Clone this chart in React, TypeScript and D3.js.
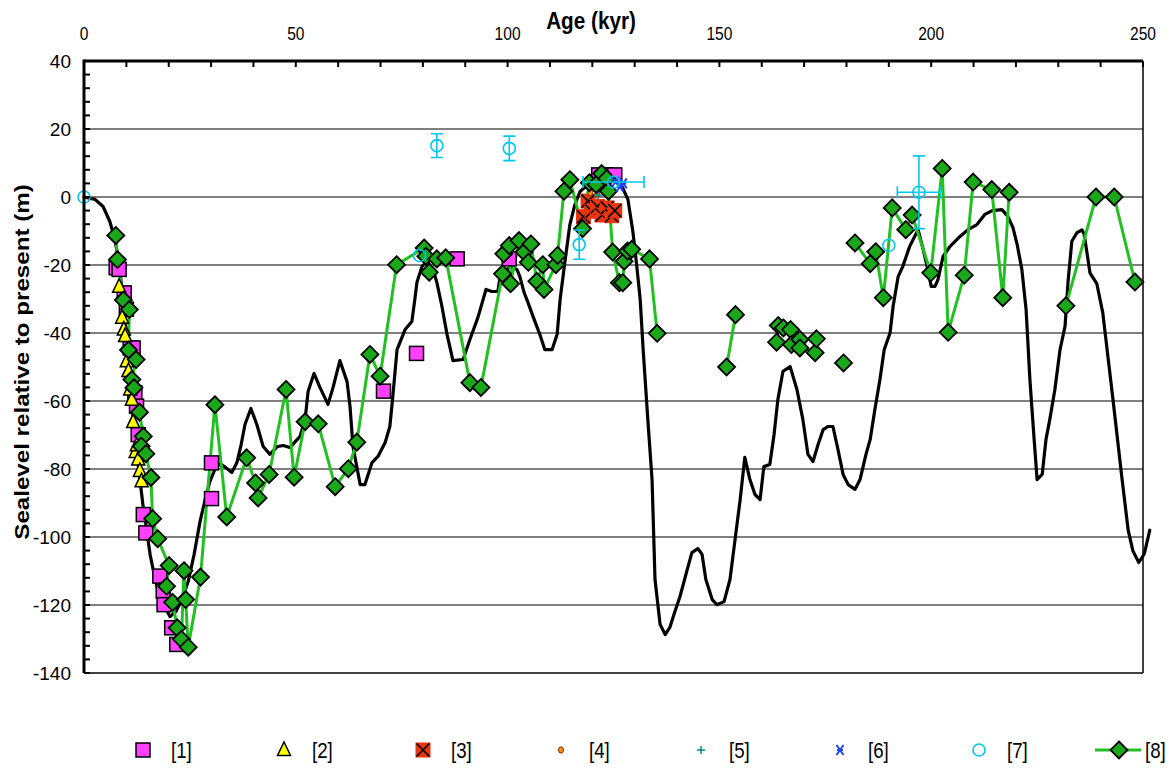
import React from 'react';
import * as d3 from 'd3';

// ---------- DATA ----------
const xTickLabels = [0, 50, 100, 150, 200, 250];
const yTickLabels = [40, 20, 0, -20, -40, -60, -80, -100, -120, -140];
const gridLevels = [20, 0, -20, -40, -60, -80, -100, -120];

// reference sea-level curve (age kyr, m)
const curve: [number, number][] = [
  [0, 0], [2.6, -0.7], [4.5, -2.8], [6.1, -7.2], [7.3, -12.5], [8.0, -17.5], [9.0, -27.2], [9.9, -39],
  [10.9, -52.2], [11.6, -65.4], [12.5, -75.7], [13.2, -83.1], [13.9, -90.4], [14.6, -96.3], [15.6, -105.1],
  [16.8, -112.5], [17.9, -117.5], [19.1, -120.7], [20.3, -123.4], [21.7, -121.9], [23.1, -118.4],
  [24.6, -113.1], [26.0, -105.1], [27.4, -95.4], [28.6, -89], [29.7, -83.7], [30.9, -80.1], [32.1, -78.4],
  [33.5, -79.6], [34.9, -81], [36.1, -78.1], [37.1, -72.8], [38.0, -66.9], [39.4, -62.2], [40.8, -66.9],
  [42.3, -73.4], [43.9, -75.7], [45.6, -73.4], [47.0, -73.1], [48.6, -73.7], [51.0, -70.4], [52.2, -65.4],
  [52.9, -57.2], [54.3, -51.9], [55.7, -56], [57.6, -61], [58.8, -56], [60.4, -48.1], [62.1, -54.3],
  [62.8, -61.6], [63.5, -73.4], [65.2, -84.6], [66.3, -84.6], [68.0, -78.1], [69.4, -76.3], [71.1, -72.2],
  [72.2, -67.5], [72.9, -58.7], [73.9, -44.9], [75.8, -39], [77.4, -36.6], [78.1, -30.1], [78.6, -25.1],
  [79.8, -20.4], [81.0, -19], [82.4, -21.3], [83.3, -25.1], [84.5, -32.2], [85.7, -40.4], [87.1, -48.1],
  [89.5, -47.8], [91.1, -41.9], [93.0, -35.4], [94.9, -27.2], [96.3, -27.8], [97.7, -27.8], [98.4, -22.2],
  [99.6, -21.3], [101.0, -20.7], [102.2, -21.3], [102.9, -23.4], [103.9, -28.1], [104.8, -31], [106.0, -35.1],
  [107.6, -40.4], [108.8, -44.9], [110.5, -44.9], [111.7, -40.4], [112.4, -30.1], [113.6, -18.4],
  [114.7, -8.1], [115.9, -2.2], [117.1, 1.6], [119.0, 3.7], [120.9, 4.3], [123.0, 4.6], [125.4, 4.6],
  [127.0, 3.1], [128.4, -0.7], [129.6, -10.4], [130.5, -20.4], [131.3, -30.1], [132.0, -44.9],
  [133.1, -65.4], [134.1, -83.1], [134.8, -112.5], [136.0, -125.7], [137.2, -128.7], [138.3, -126.6],
  [139.5, -121.9], [140.7, -117.5], [142.1, -111], [143.5, -104.6], [144.9, -103.4], [145.9, -105.1],
  [146.8, -112.5], [148.3, -118.4], [149.4, -119.9], [151.1, -119], [152.5, -112.5], [153.7, -100.7],
  [154.9, -89], [156.0, -76.6], [157.2, -83.1], [158.4, -87.5], [159.6, -89], [160.5, -79.3], [161.9, -78.7],
  [162.9, -69.9], [163.8, -59.6], [165.0, -51.3], [166.7, -49.9], [168.3, -56.6], [169.7, -65.4],
  [170.9, -75.7], [172.1, -77.8], [173.3, -72.8], [174.5, -68.4], [175.6, -67.5], [176.8, -67.5],
  [178.0, -74.3], [179.2, -81.6], [180.4, -84.6], [182.0, -86], [183.2, -83.1], [184.6, -75.7],
  [185.6, -71.3], [186.7, -62.5], [187.9, -53.7], [188.9, -44.9], [190.3, -39.9], [191.0, -32.2],
  [192.2, -23.4], [193.3, -20.4], [194.9, -14.6], [196.9, -9.6], [198.1, -15.4], [199.2, -21.3],
  [200.0, -26.3], [200.9, -26.3], [201.6, -24.3], [202.8, -17.5], [204.4, -14.6], [206.8, -11.6],
  [208.7, -9.6], [210.8, -8.1], [212.7, -5.1], [214.4, -4], [216.7, -3.7], [218.1, -5.7], [219.3, -9],
  [220.3, -14], [221.4, -21.3], [222.4, -33.1], [223.3, -53.7], [224.3, -71.3], [225.0, -83.1],
  [226.2, -81.6], [227.1, -71.3], [228.0, -65.4], [229.2, -56.6], [230.4, -45], [231.6, -38],
  [232.3, -25], [233.2, -13], [234.4, -10.5], [235.6, -9.7], [236.1, -10.9], [237.5, -22.4],
  [239.1, -25.5], [240.5, -34], [242.9, -59.4], [245.0, -82.4], [246.5, -98], [247.6, -104],
  [249.0, -107.5], [250.3, -105], [251.6, -98]
];

// [1] squares
const series1: [number, number][] = [
  [7.6, -20.8], [8.3, -21.3], [9.5, -28.2], [10.0, -33], [10.9, -44.4], [11.6, -44.4], [12.0, -57.6],
  [12.4, -61.5], [12.8, -69.9], [14.0, -93.4], [14.6, -98.8], [17.9, -111.5], [18.7, -115.9],
  [18.9, -119.9], [20.7, -126.7], [21.9, -131.6], [30.1, -78.2], [30.1, -88.7], [70.7, -57.1],
  [78.5, -46], [88.1, -18.2], [100.4, -18.2], [121.5, 6.5], [123.3, 6.5], [125.3, 6.5]
];

// [2] triangles
const series2: [number, number][] = [
  [8.3, -26.4], [9.0, -35.5], [9.4, -39], [9.7, -40.9], [10.1, -48.3], [10.5, -51.2], [10.9, -56.6],
  [11.3, -59.6], [11.6, -66.2], [12.2, -75], [12.5, -73], [12.8, -77.2], [13.2, -80.6], [13.6, -83.6]
];

// [3] crossed boxes
const series3: [number, number][] = [
  [117.9, -5.8], [119.0, -1.2], [119.9, -4.2], [121.2, -2.8], [122.3, -5.3], [123.5, -3.2], [124.6, -5.5], [125.3, -4.0]
];

// [4] small circles
const series4: [number, number][] = [[119.5, 1.3], [121.2, 0.7], [123.8, 0.7]];

// [5] plus
const series5: [number, number][] = [[121.3, 0.5], [122.5, 1.5]];

// [6] x
const series6: [number, number][] = [[125.5, 4.5], [126.5, 3.0], [127.3, 4.0]];

// [7] open circles with error bars
const series7: [number, number][] = [
  [0, 0], [79.2, -17.2], [83.3, 15.1], [100.4, 14.3], [116.9, -14], [125.0, 4.4], [190.0, -14.2], [197.1, 1.4]
];
const series7YErr = [0, 0, 3.5, 3.6, 4.3, 0, 0, 10.7];
const series7XErr = [0, 0, 0, 0, 0, 7.2, 0, 5.1];

// [8] line + diamonds, in segments
const seg8a: [number, number][] = [
  [7.5, -11.3], [7.9, -18.4], [9.3, -30.3], [10.7, -33.1], [10.5, -45], [12.3, -47.8], [11.3, -53.7],
  [11.8, -56.1], [13.1, -63.3], [14.0, -70.4], [13.5, -73.3], [14.6, -75.5], [15.8, -82.5], [16.2, -94.6],
  [17.4, -100.5], [20.1, -108.4], [19.5, -114.5], [20.9, -119.2], [22.0, -126.7], [23.0, -130.1],
  [23.6, -109.9], [24.0, -118.4], [24.6, -132.4], [27.5, -111.8], [30.9, -61.1], [33.7, -94.1],
  [38.4, -76.7], [40.5, -84.1], [41.1, -88.5], [43.7, -81.6], [47.7, -56.6], [49.6, -82.4], [52.2, -66.1],
  [55.3, -66.7], [59.3, -85.2], [62.4, -79.9], [64.4, -72.1], [67.5, -46.3], [69.9, -52.7], [73.8, -19.9],
  [80.3, -15], [80.7, -17.4], [81.5, -22.1], [83.3, -18.2], [85.4, -17.9], [91.1, -54.6], [93.7, -56],
  [98.8, -22.6], [99.1, -16.7], [100.4, -14.3], [100.7, -25.5], [102.7, -12.8], [103.9, -16.2],
  [104.9, -19.2], [105.5, -13.8], [106.9, -24.8], [108.3, -19.9], [108.6, -27.2], [111.4, -19.9],
  [111.8, -17.2], [113.3, 1.7], [114.7, 5.1], [117.7, -9.3], [119.3, 4.2], [120.9, 3.7], [122.2, 6.9],
  [123.4, 5.4], [123.8, 1.7], [124.8, -16.2], [126.4, -25.2], [127.2, -25.2], [127.5, -18.9],
  [128.3, -15.9], [129.3, -15.4], [133.5, -18.2], [135.3, -40.1]
];
const seg8b: [number, number][] = [[151.7, -50], [153.8, -34.6]];
const seg8c: [number, number][] = [
  [163.5, -42.7], [163.9, -37.8], [165.1, -38.5], [166.8, -39], [167.0, -43.4], [169.0, -41.9],
  [169.0, -44.4], [172.6, -45.8], [172.9, -41.7]
];
const seg8d: [number, number][] = [[179.3, -48.8]];
const seg8e: [number, number][] = [
  [182.0, -13.5], [185.6, -19.6], [186.9, -16.1], [188.7, -29.6], [190.8, -3.2], [194.0, -9.6],
  [195.5, -5.3], [199.9, -22.3], [202.6, 8.4], [204.0, -39.8], [207.8, -23], [209.9, 4.4], [214.3, 2.2],
  [216.9, -29.6], [218.4, 1.4]
];
const seg8f: [number, number][] = [[231.8, -32], [238.9, 0], [243.2, 0], [248.1, -25]];

const legendLabels = ['[1]', '[2]', '[3]', '[4]', '[5]', '[6]', '[7]', '[8]'];

// ---------- STYLE ----------
const W = 1171, H = 769;
const PINK = '#ff40ff', YELLOW = '#ffff00', RED = '#e8340f', ORANGE = '#ff8c1a',
  TEAL = '#008b8b', BLUE = '#2244ff', CYAN = '#00c8f0', GREEN_LINE = '#22c022', GREEN_FILL = '#1aa81a';

const x = d3.scaleLinear().domain([0, 250]).range([84, 1143]);
const y = d3.scaleLinear().domain([-140, 40]).range([673, 61]);

const line = d3.line<[number, number]>().x(d => x(d[0])).y(d => y(d[1]));

function Square({ cx, cy }: { cx: number; cy: number }) {
  return <rect x={cx - 7} y={cy - 7} width={14} height={14} fill={PINK} stroke="#000" strokeWidth={1.5} />;
}
function Triangle({ cx, cy }: { cx: number; cy: number }) {
  return <path d={`M${cx},${cy - 8}L${cx + 6.5},${cy + 5.5}L${cx - 6.5},${cy + 5.5}Z`} fill={YELLOW} stroke="#000" strokeWidth={1.5} />;
}
function XBox({ cx, cy }: { cx: number; cy: number }) {
  return (
    <g>
      <rect x={cx - 7.5} y={cy - 7.5} width={15} height={15} fill={RED} />
      <path d={`M${cx - 6.5},${cy - 6.5}L${cx + 6.5},${cy + 6.5}M${cx + 6.5},${cy - 6.5}L${cx - 6.5},${cy + 6.5}`} stroke="#000" strokeWidth={1.6} />
    </g>
  );
}
function Dot({ cx, cy }: { cx: number; cy: number }) {
  return <ellipse cx={cx} cy={cy} rx={2.5} ry={3.2} fill={ORANGE} stroke="#7a3a00" strokeWidth={1} />;
}
function Plus({ cx, cy }: { cx: number; cy: number }) {
  return <path d={`M${cx - 4},${cy}L${cx + 4},${cy}M${cx},${cy - 4}L${cx},${cy + 4}`} stroke={TEAL} strokeWidth={1.5} />;
}
function XMark({ cx, cy }: { cx: number; cy: number }) {
  return <path d={`M${cx - 3.5},${cy - 5}L${cx + 3.5},${cy + 5}M${cx + 3.5},${cy - 5}L${cx - 3.5},${cy + 5}M${cx - 3},${cy}L${cx + 3},${cy}`} stroke={BLUE} strokeWidth={2} />;
}
function OCircle({ cx, cy }: { cx: number; cy: number }) {
  return <circle cx={cx} cy={cy} r={6} fill="none" stroke={CYAN} strokeWidth={1.6} />;
}
function Diamond({ cx, cy }: { cx: number; cy: number }) {
  return <path d={`M${cx},${cy - 8.5}L${cx + 8.5},${cy}L${cx},${cy + 8.5}L${cx - 8.5},${cy}Z`} fill={GREEN_FILL} stroke="#000" strokeWidth={1.8} strokeLinejoin="miter" />;
}

export default function App() {
  const seg8 = [seg8a, seg8b, seg8c, seg8d, seg8e, seg8f];
  const xMinor = d3.range(0, 251, 10);
  const yMinor = d3.range(-140, 41, 4);
  const legendX = [143, 284, 423, 561, 701, 840, 979, 1119];
  const legendY = 750;
  const font = 'Arial, "Liberation Sans", sans-serif';

  return (
    <svg width={W} height={H} style={{ position: 'absolute', left: 0, top: 0, display: 'block', background: '#fff' }} fontFamily={font}>
      {/* grid */}
      {gridLevels.map(v => (
        <line key={v} x1={x(0)} x2={x(250)} y1={y(v)} y2={y(v)} stroke="#000" strokeWidth={1} />
      ))}
      {/* borders */}
      <line x1={x(0)} x2={x(250)} y1={y(-140)} y2={y(-140)} stroke="#000" strokeWidth={1.5} />
      <line x1={x(250)} x2={x(250)} y1={y(40)} y2={y(-140)} stroke="#000" strokeWidth={1.5} />

      {/* reference curve */}
      <path d={line(curve) || ''} fill="none" stroke="#000" strokeWidth={3.2} strokeLinejoin="round" strokeLinecap="round" />

      {/* [8] lines */}
      {seg8.map((s, i) => s.length > 1 ? (
        <path key={i} d={line(s) || ''} fill="none" stroke={GREEN_LINE} strokeWidth={3} strokeLinejoin="round" />
      ) : null)}

      {series1.map((d, i) => <Square key={i} cx={x(d[0])} cy={y(d[1])} />)}
      {series2.map((d, i) => <Triangle key={i} cx={x(d[0])} cy={y(d[1])} />)}
      {series3.map((d, i) => <XBox key={i} cx={x(d[0])} cy={y(d[1])} />)}
      {series4.map((d, i) => <Dot key={i} cx={x(d[0])} cy={y(d[1])} />)}
      {series5.map((d, i) => <Plus key={i} cx={x(d[0])} cy={y(d[1])} />)}
      {seg8.map((s, i) => s.map((d, j) => <Diamond key={`${i}-${j}`} cx={x(d[0])} cy={y(d[1])} />))}
      {series6.map((d, i) => <XMark key={i} cx={x(d[0])} cy={y(d[1])} />)}
      {series7.map((d, i) => {
        const cx = x(d[0]), cy = y(d[1]);
        const ye = series7YErr[i], xe = series7XErr[i];
        return (
          <g key={i} stroke={CYAN} strokeWidth={1.6} fill="none">
            {ye > 0 && (
              <path d={`M${cx},${y(d[1] + ye)}L${cx},${y(d[1] - ye)}M${cx - 6},${y(d[1] + ye)}L${cx + 6},${y(d[1] + ye)}M${cx - 6},${y(d[1] - ye)}L${cx + 6},${y(d[1] - ye)}`} />
            )}
            {xe > 0 && (
              <path d={`M${x(d[0] - xe)},${cy}L${x(d[0] + xe)},${cy}M${x(d[0] - xe)},${cy - 6}L${x(d[0] - xe)},${cy + 6}M${x(d[0] + xe)},${cy - 6}L${x(d[0] + xe)},${cy + 6}`} />
            )}
            <OCircle cx={cx} cy={cy} />
          </g>
        );
      })}

      {/* axes */}
      <line x1={x(0)} x2={x(250)} y1={y(40)} y2={y(40)} stroke="#000" strokeWidth={3} />
      <line x1={x(0)} x2={x(0)} y1={y(40) - 1.5} y2={y(-140)} stroke="#000" strokeWidth={3} />
      {xMinor.map(v => (
        <line key={v} x1={x(v)} x2={x(v)} y1={y(40)} y2={y(40) + 6} stroke="#000" strokeWidth={2} />
      ))}
      {yMinor.map(v => (
        <line key={v} x1={x(0)} x2={x(0) + 6} y1={y(v)} y2={y(v)} stroke="#000" strokeWidth={2} />
      ))}
      {xTickLabels.map(v => (
        <text key={v} transform={`translate(${x(v)},40) scale(0.82,1)`} textAnchor="middle" fontSize={19}>{v}</text>
      ))}
      {yTickLabels.map(v => (
        <text key={v} x={71} y={y(v) + 6.5} textAnchor="end" fontSize={19}>{v}</text>
      ))}
      <text transform="translate(591,29) scale(0.9,1)" textAnchor="middle" fontSize={23} fontWeight="bold">Age (kyr)</text>
      <text transform="translate(29,362) rotate(-90) scale(1.15,1)" textAnchor="middle" fontSize={21} fontWeight="bold">Sealevel relative to present (m)</text>

      {/* legend */}
      <g>
        <Square cx={legendX[0]} cy={legendY} />
        <Triangle cx={legendX[1]} cy={legendY} />
        <XBox cx={legendX[2]} cy={legendY} />
        <Dot cx={legendX[3]} cy={legendY} />
        <Plus cx={legendX[4]} cy={legendY} />
        <XMark cx={legendX[5]} cy={legendY} />
        <OCircle cx={legendX[6]} cy={legendY} />
        <line x1={legendX[7] - 24} x2={legendX[7] + 22} y1={legendY} y2={legendY} stroke={GREEN_LINE} strokeWidth={3} />
        <Diamond cx={legendX[7]} cy={legendY} />
        {legendLabels.map((t, i) => (
          <text key={t} transform={`translate(${i === 7 ? 1145 : legendX[i] + 28},${legendY + 8}) scale(0.85,1)`} fontSize={22}>{t}</text>
        ))}
      </g>
    </svg>
  );
}
